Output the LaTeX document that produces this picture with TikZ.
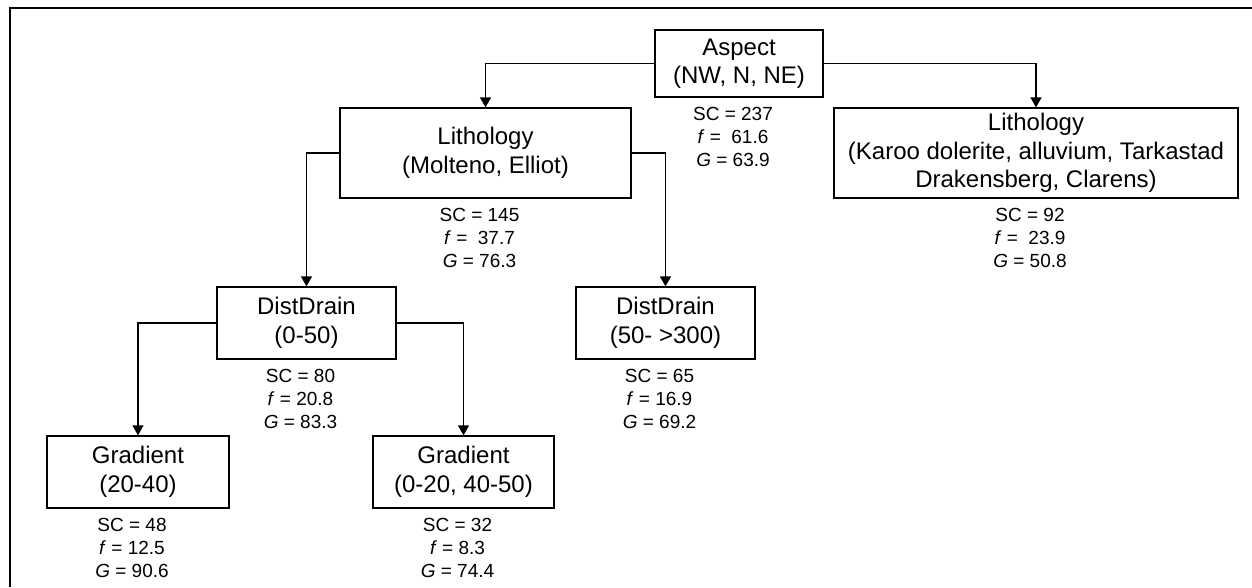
\documentclass[tikz,border=0pt]{standalone}
\usepackage{fontspec}
\setmainfont{Liberation Sans}
\usetikzlibrary{arrows.meta}

\begin{document}
\begin{tikzpicture}
        [x=1pt,y=-1pt,
         box/.style={draw, line width=1.3pt, align=center, inner sep=0pt, minimum height=72pt,
           font=\fontsize{24}{28.5}\selectfont},
         stats/.style={anchor=north, align=center, inner sep=0pt, yshift=-9pt, xshift=-6pt,
           font=\fontsize{19}{23}\selectfont},
         link/.style={line width=1.3pt, -{Triangle[width=11pt,length=10pt]}}]
      \useasboundingbox (0,0) rectangle (1252,587);
      \draw[line width=2.5pt] (10,587) -- (10,8) -- (1252,8);

      % split nodes
      \node[box, minimum width=168pt, minimum height=67pt] (aspect) at (739,63.5) {Aspect\\(NW, N, NE)};
      \node[box, minimum width=291pt, minimum height=90pt] (lith1) at (485.5,153) {Lithology\\(Molteno, Elliot)};
      \node[box, minimum width=404pt, minimum height=90pt] (lith2) at (1036,153) {Lithology\\(Karoo dolerite, alluvium, Tarkastad\\Drakensberg, Clarens)};
      \node[box, minimum width=179pt] (dd1) at (306.5,323) {DistDrain\\(0-50)};
      \node[box, minimum width=179pt] (dd2) at (665.5,323) {DistDrain\\(50- >300)};
      \node[box, minimum width=182pt] (grad1) at (138,472) {Gradient\\(20-40)};
      \node[box, minimum width=181pt] (grad2) at (463.5,472) {Gradient\\(0-20, 40-50)};

      % counts under each box
      \node[stats] (s-aspect) at (aspect.south) {SC = 237\\\textit{f} =~ 61.6\\\textit{G} = 63.9};
      \node[stats] (s-lith1) at (lith1.south) {SC = 145\\\textit{f} =~ 37.7\\\textit{G} = 76.3};
      \node[stats] (s-lith2) at (lith2.south) {SC = 92\\\textit{f} =~ 23.9\\\textit{G} = 50.8};
      \node[stats] (s-dd1) at (dd1.south) {SC = 80\\\textit{f} = 20.8\\\textit{G} = 83.3};
      \node[stats] (s-dd2) at (dd2.south) {SC = 65\\\textit{f} = 16.9\\\textit{G} = 69.2};
      \node[stats] (s-grad1) at (grad1.south) {SC = 48\\\textit{f} = 12.5\\\textit{G} = 90.6};
      \node[stats] (s-grad2) at (grad2.south) {SC = 32\\\textit{f} = 8.3\\\textit{G} = 74.4};

      \foreach \from/\side/\to in {aspect/west/lith1, aspect/east/lith2, lith1/west/dd1,
                                   lith1/east/dd2, dd1/west/grad1, dd1/east/grad2}
        \draw[link] (\from.\side) -| (\to.north);
    \end{tikzpicture}
\end{document}
